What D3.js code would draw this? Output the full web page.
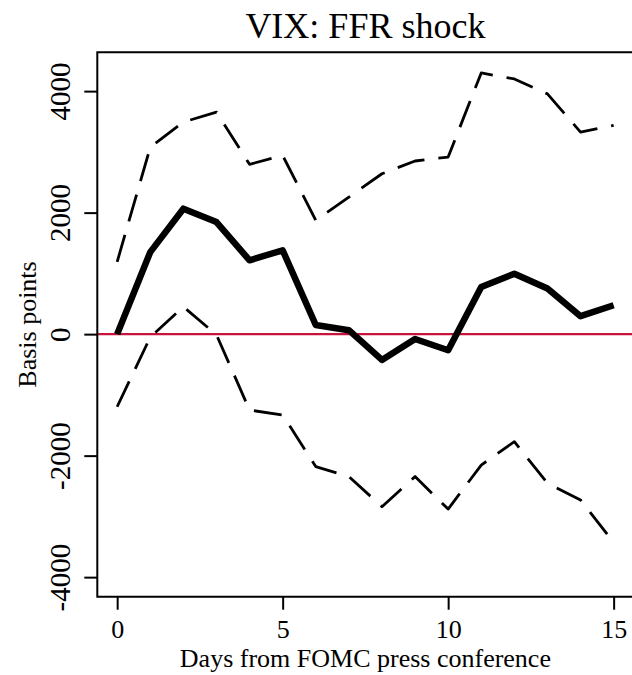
<!DOCTYPE html>
<html>
<head>
<meta charset="utf-8">
<script src="https://cdn.jsdelivr.net/npm/d3@7"></script>
<style>
  html, body { margin: 0; padding: 0; background: #fff; }
  svg { display: block; }
  text { font-family: "Liberation Serif", "Times New Roman", serif; fill: #000; }
</style>
</head>
<body>
<svg id="chart" width="632" height="675"></svg>
<script>
// ---- data ----
const days = [0, 1, 2, 3, 4, 5, 6, 7, 8, 9, 10, 11, 12, 13, 14, 15];
const estimate = [0, 1350, 2065, 1845, 1215, 1380, 150, 65, -425, -80, -265, 775, 995, 750, 295, 475];
const upper = [1190, 3075, 3490, 3655, 2795, 2940, 1875, 2255, 2640, 2850, 2915, 4300, 4200, 3955, 3325, 3435];
const lower = [-1195, -50, 450, -10, -1250, -1330, -2180, -2345, -2840, -2345, -2880, -2155, -1770, -2455, -2730, -3430];
const xTicks = [0, 5, 10, 15];
const yTicks = [-4000, -2000, 0, 2000, 4000];
const titleText = "VIX: FFR shock";
const xLabel = "Days from FOMC press conference";
const yLabel = "Basis points";

// ---- layout ----
const svg = d3.select("#chart");
const pL = 97.3, pR = 633.5, pT = 52.3, pB = 596.7;

const x = d3.scaleLinear().domain([-0.6, 15.6]).range([pL, pR]);
const y = d3.scaleLinear().domain([-4322, 4639]).range([pB, pT]);

// zero line
svg.append("line")
  .attr("x1", pL).attr("x2", pR)
  .attr("y1", y(0)).attr("y2", y(0))
  .attr("stroke", "#C8143C").attr("stroke-width", 2.4);

const line = d3.line().x((d, i) => x(days[i])).y(d => y(d));

// confidence bands (dashed)
[upper, lower].forEach(arr => {
  svg.append("path")
    .attr("d", line(arr))
    .attr("fill", "none")
    .attr("stroke", "#000")
    .attr("stroke-width", 2.8)
    .attr("stroke-dasharray", "28,14")
    .attr("stroke-linejoin", "round");
});

// estimate (thick)
svg.append("path")
  .attr("d", line(estimate))
  .attr("fill", "none")
  .attr("stroke", "#000")
  .attr("stroke-width", 6.5)
  .attr("stroke-linejoin", "round");

// box: left, top, bottom (right edge outside canvas)
svg.append("path")
  .attr("d", `M${pR},${pT}H${pL}V${pB}H${pR}`)
  .attr("fill", "none").attr("stroke", "#000").attr("stroke-width", 2);

// axes
const fmt = d => String(d);
const xAxis = d3.axisBottom(x).tickValues(xTicks).tickSize(13).tickPadding(10).tickFormat(fmt);
const gx = svg.append("g").attr("transform", `translate(0,${pB})`).call(xAxis);
gx.select(".domain").remove();
gx.selectAll(".tick line").attr("stroke-width", 2);
gx.selectAll(".tick text").attr("font-size", 26).attr("font-family", "Liberation Serif").attr("dy", "0.71em");

const yAxis = d3.axisLeft(y).tickValues(yTicks).tickSize(13).tickFormat(fmt);
const gy = svg.append("g").attr("transform", `translate(${pL},0)`).call(yAxis);
gy.select(".domain").remove();
gy.selectAll(".tick line").attr("stroke-width", 2);
gy.selectAll(".tick text")
  .attr("font-size", 29).attr("font-family", "Liberation Serif")
  .attr("x", null).attr("dy", null)
  .attr("text-anchor", "middle")
  .attr("transform", "translate(-27,0) rotate(-90)");

// title
svg.append("text")
  .attr("x", (pL + pR) / 2).attr("y", 38)
  .attr("text-anchor", "middle").attr("font-size", 36)
  .text(titleText);

// x label
svg.append("text")
  .attr("x", (pL + pR) / 2).attr("y", 667)
  .attr("text-anchor", "middle").attr("font-size", 26)
  .text(xLabel);

// y label
svg.append("text")
  .attr("transform", `translate(36,${(pT + pB) / 2}) rotate(-90)`)
  .attr("text-anchor", "middle").attr("font-size", 26)
  .text(yLabel);
</script>
</body>
</html>
